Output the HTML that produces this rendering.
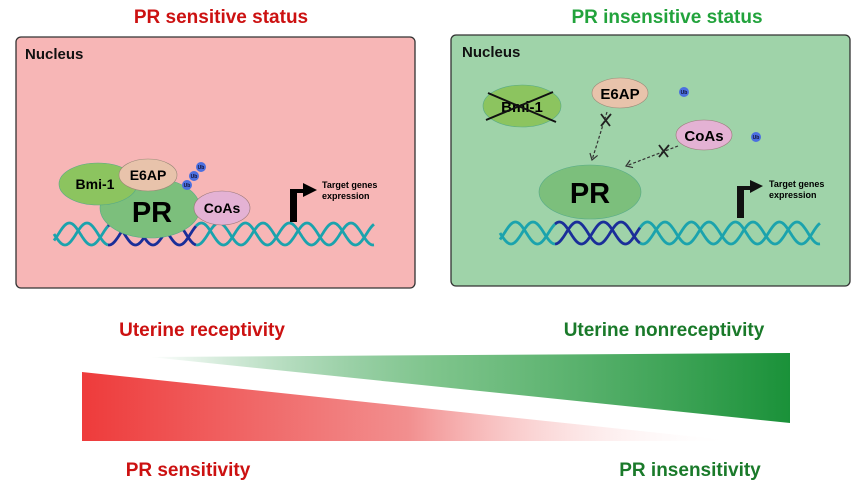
<!DOCTYPE html>
<html><head><meta charset="utf-8"><style>
body{margin:0;background:#fff}
svg{display:block}
text{font-family:"Liberation Sans",sans-serif;font-weight:bold}
</style></head><body>
<svg id="s" width="862" height="483" viewBox="0 0 862 483" xmlns="http://www.w3.org/2000/svg">
<defs>
<linearGradient id="gg" x1="150" y1="0" x2="790" y2="0" gradientUnits="userSpaceOnUse">
<stop offset="0" stop-color="#1e9440" stop-opacity="0"/><stop offset="0.45" stop-color="#5db56e" stop-opacity="0.8"/><stop offset="1" stop-color="#1a9139"/></linearGradient>
<linearGradient id="rg" x1="82" y1="0" x2="735" y2="0" gradientUnits="userSpaceOnUse">
<stop offset="0" stop-color="#ee3b3b"/><stop offset="0.5" stop-color="#f28f8f"/><stop offset="1" stop-color="#fff" stop-opacity="0"/></linearGradient>
<marker id="ah" markerWidth="10" markerHeight="10" refX="7" refY="5" orient="auto" markerUnits="userSpaceOnUse"><path d="M1,1 L7,5 L1,9" fill="none" stroke="#333" stroke-width="1.2"/></marker>
</defs>
<text x="221" y="23" fill="#cc1111" font-size="19" text-anchor="middle">PR sensitive status</text>
<text x="667" y="23" fill="#22a33c" font-size="19" text-anchor="middle">PR insensitive status</text>
<rect x="16" y="37" width="399" height="251" rx="5" fill="#f7b6b6" stroke="#333" stroke-width="1.3"/>
<rect x="451" y="35" width="399" height="251" rx="5" fill="#9fd3a9" stroke="#333" stroke-width="1.3"/>
<text x="25" y="59" font-size="15" fill="#111">Nucleus</text>
<text x="462" y="57" font-size="15" fill="#111">Nucleus</text>
<g id="dna1"></g><g id="dna2"></g>
<!-- left proteins -->
<ellipse cx="150" cy="208" rx="50" ry="30" fill="#7cbf7c" stroke="#5a8" stroke-width="0.6"/>
<ellipse cx="98" cy="184" rx="39" ry="21" fill="#8cc45f" stroke="#5a8" stroke-width="0.6"/>
<ellipse cx="148" cy="175" rx="29" ry="16" fill="#e8c3ab" stroke="#987" stroke-width="0.6"/>
<ellipse cx="222" cy="208" rx="28" ry="17" fill="#e4b2d4" stroke="#977" stroke-width="0.6"/>
<text x="95" y="189" font-size="14" text-anchor="middle">Bmi-1</text>
<text x="148" y="180" font-size="14" text-anchor="middle">E6AP</text>
<text x="152" y="222" font-size="29" text-anchor="middle">PR</text>
<text x="222" y="213" font-size="14" text-anchor="middle">CoAs</text>
<g font-size="5" text-anchor="middle" fill="#113">
<circle cx="187" cy="185" r="5" fill="#4b6fe0"/><text x="187" y="187">Ub</text>
<circle cx="194" cy="176" r="5" fill="#4b6fe0"/><text x="194" y="178">Ub</text>
<circle cx="201" cy="167" r="5" fill="#4b6fe0"/><text x="201" y="169">Ub</text>
</g>
<path d="M290,222 V189 H303 V183 L317,190 L303,197 V193 H297 V222 Z" fill="#000"/>
<text x="322" y="188" font-size="9">Target genes</text>
<text x="322" y="199" font-size="9">expression</text>
<!-- right proteins -->
<ellipse cx="522" cy="106" rx="39" ry="21" fill="#8cc45f" stroke="#5a8" stroke-width="0.6"/>
<text x="522" y="112" font-size="15" text-anchor="middle">Bmi-1</text>
<path d="M488,93 L556,122 M486,120 L553,92" stroke="#111" stroke-width="2"/>
<ellipse cx="620" cy="93" rx="28" ry="15" fill="#e8c3ab" stroke="#987" stroke-width="0.6"/>
<text x="620" y="99" font-size="15" text-anchor="middle">E6AP</text>
<ellipse cx="704" cy="135" rx="28" ry="15" fill="#e4b2d4" stroke="#977" stroke-width="0.6"/>
<text x="704" y="141" font-size="15" text-anchor="middle">CoAs</text>
<ellipse cx="590" cy="192" rx="51" ry="27" fill="#7cbf7c" stroke="#5a8" stroke-width="0.6"/>
<text x="590" y="203" font-size="29" text-anchor="middle">PR</text>
<g font-size="5" text-anchor="middle" fill="#113">
<circle cx="684" cy="92" r="5" fill="#4b6fe0"/><text x="684" y="94">Ub</text>
<circle cx="756" cy="137" r="5" fill="#4b6fe0"/><text x="756" y="139">Ub</text>
</g>
<path d="M607,112 L592,160" stroke="#333" stroke-width="1.2" stroke-dasharray="3,2" fill="none" marker-end="url(#ah)"/>
<path d="M678,146 L626,166" stroke="#333" stroke-width="1.2" stroke-dasharray="3,2" fill="none" marker-end="url(#ah)"/>
<path d="M601,114 L610,126 M611,114 L601,126" stroke="#222" stroke-width="1.8"/>
<path d="M659,145 L668,157 M669,145 L659,157" stroke="#222" stroke-width="1.8"/>
<path d="M737,218 V186 H750 V180 L763,186 L750,193 V190 H744 V218 Z" fill="#111"/>
<text x="769" y="187" font-size="9">Target genes</text>
<text x="769" y="198" font-size="9">expression</text>
<!-- bottom -->
<text x="202" y="336" font-size="19" fill="#cc1111" text-anchor="middle">Uterine receptivity</text>
<text x="664" y="336" font-size="19" fill="#1a7a2a" text-anchor="middle">Uterine nonreceptivity</text>
<polygon points="150,357 790,353 790,423" fill="url(#gg)"/>
<polygon points="82,372 82,441 735,441" fill="url(#rg)"/>
<text x="188" y="476" font-size="19" fill="#cc1111" text-anchor="middle">PR sensitivity</text>
<text x="690" y="476" font-size="19" fill="#1a7a2a" text-anchor="middle">PR insensitivity</text>
</svg>
<script>
function helix(g,x0,x1,yc,a,per,dk0,dk1){
 var out="";
 for(var ph=0;ph<2;ph++){
  var segs=[[x0,dk0,"#1ba3ad"],[dk0,dk1,"#1a2e99"],[dk1,x1,"#1ba3ad"]];
  segs.forEach(function(s){
   var d="";
   for(var x=s[0];x<=s[1];x+=1){
     var y=yc+a*Math.sin((x-x0)/per*2*Math.PI+ph*Math.PI*0.8);
     d+=(d?"L":"M")+x+","+y.toFixed(1);
   }
   out+='<path d="'+d+'" fill="none" stroke="'+s[2]+'" stroke-width="2.8"/>';
  });
 }
 document.getElementById(g).innerHTML=out;
}
helix("dna1",54,374,234,11,44,108,196);
helix("dna2",500,820,233,11,44,555,640);
</script>
</body></html>
